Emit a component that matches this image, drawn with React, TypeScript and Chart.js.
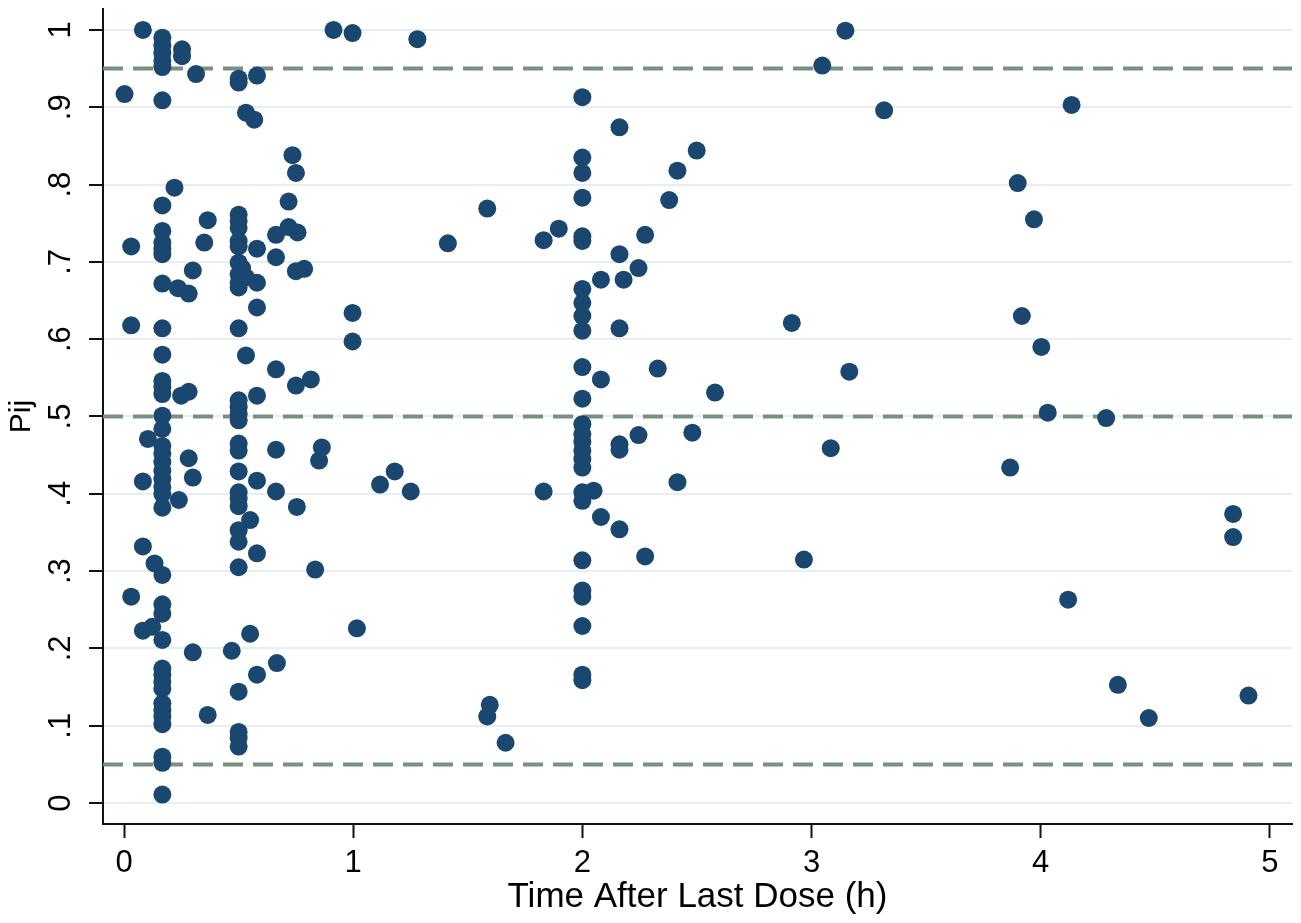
import { useEffect, useRef } from "react";
import { Chart, registerables } from "chart.js";

Chart.register(...registerables);

// Time after last dose (h) for each observation
const timeHours: number[] = [
  0.082, 0.002, 0.167, 0.167, 0.167, 0.167, 0.167, 0.253, 0.253, 0.314,
  0.167, 0.5, 0.5, 0.58, 0.532, 0.568, 0.735, 0.75, 0.22, 0.167,
  0.718, 0.365, 0.5, 0.5, 0.5, 0.167, 0.663, 0.718, 0.757, 0.35,
  0.5, 0.5, 0.031, 0.167, 0.167, 0.167, 0.58, 0.663, 0.5, 0.515,
  0.75, 0.786, 0.3, 0.167, 0.5, 0.5, 0.532, 0.5, 0.58, 0.235,
  0.282, 0.58, 0.031, 0.167, 0.5, 0.167, 0.532, 0.663, 0.167, 0.167,
  0.815, 0.75, 0.249, 0.282, 0.167, 0.58, 0.5, 0.5, 0.5, 0.5,
  0.167, 0.167, 0.104, 0.167, 0.167, 0.167, 0.167, 0.167, 0.167, 0.167,
  0.167, 0.282, 0.3, 0.082, 0.239, 0.5, 0.5, 0.5, 0.5, 0.5,
  0.5, 0.58, 0.55, 0.5, 0.5, 0.58, 0.5, 0.663, 0.663, 0.754,
  0.851, 0.863, 0.834, 0.082, 0.133, 0.167, 0.031, 0.167, 0.167, 0.082,
  0.123, 0.167, 0.3, 0.47, 0.55, 0.167, 0.167, 0.167, 0.167, 0.58,
  0.667, 0.5, 0.167, 0.167, 0.167, 0.167, 0.365, 0.5, 0.5, 0.5,
  0.167, 0.167, 0.167,
  0.914, 0.997, 1.28, 0.997, 0.997, 1.016, 1.117, 1.181, 1.251, 1.413,
  1.585, 1.596, 1.585, 1.665, 1.831, 1.897, 1.831,
  2, 2, 2, 2, 2, 2, 2, 2, 2, 2,
  2, 2, 2, 2, 2, 2, 2, 2, 2, 2,
  2, 2, 2, 2, 2, 2,
  2.162, 2.274, 2.162, 2.245, 2.081, 2.18, 2.162, 2.081, 2.049, 2.081,
  2.162, 2.162, 2.245, 2.162, 2.274, 2.499, 2.415, 2.379, 2.329, 2.579,
  2.48, 2.415,
  2.914, 2.967, 3.047, 3.148, 3.165, 3.084, 3.317, 3.867, 3.9, 3.918,
  3.971, 4.003, 4.031, 4.12, 4.135, 4.286, 4.337, 4.472, 4.84, 4.84,
  4.907,
];

// Pij value for each observation (same order as timeHours)
const pijValues: number[] = [
  1.0, 0.917, 0.99, 0.98, 0.97, 0.96, 0.952, 0.975, 0.966, 0.943,
  0.909, 0.937, 0.932, 0.941, 0.893, 0.884, 0.838, 0.815, 0.796, 0.773,
  0.778, 0.754, 0.761, 0.753, 0.744, 0.74, 0.735, 0.745, 0.738, 0.725,
  0.727, 0.72, 0.72, 0.725, 0.717, 0.71, 0.717, 0.706, 0.699, 0.692,
  0.688, 0.691, 0.689, 0.672, 0.684, 0.673, 0.68, 0.667, 0.673, 0.666,
  0.659, 0.641, 0.618, 0.614, 0.614, 0.58, 0.579, 0.561, 0.546, 0.538,
  0.548, 0.54, 0.527, 0.532, 0.529, 0.527, 0.521, 0.512, 0.503, 0.495,
  0.501, 0.484, 0.471, 0.462, 0.452, 0.441, 0.43, 0.419, 0.409, 0.4,
  0.382, 0.446, 0.421, 0.416, 0.392, 0.465, 0.456, 0.429, 0.402, 0.394,
  0.384, 0.417, 0.366, 0.353, 0.338, 0.323, 0.305, 0.457, 0.403, 0.383,
  0.443, 0.46, 0.302, 0.332, 0.31, 0.295, 0.267, 0.257, 0.245, 0.223,
  0.228, 0.211, 0.195, 0.197, 0.219, 0.174, 0.166, 0.157, 0.148, 0.166,
  0.181, 0.144, 0.129, 0.12, 0.112, 0.102, 0.114, 0.092, 0.084, 0.073,
  0.06, 0.052, 0.011,
  1.0, 0.996, 0.988, 0.634, 0.597, 0.226, 0.412, 0.429, 0.403, 0.724,
  0.769, 0.127, 0.112, 0.078, 0.728, 0.743, 0.403,
  0.913, 0.835, 0.815, 0.783, 0.733, 0.727, 0.665, 0.647, 0.63, 0.611,
  0.564, 0.523, 0.49, 0.477, 0.467, 0.456, 0.445, 0.434, 0.402, 0.391,
  0.314, 0.275, 0.267, 0.229, 0.166, 0.159,
  0.874, 0.735, 0.71, 0.692, 0.677, 0.677, 0.614, 0.548, 0.404, 0.37,
  0.464, 0.457, 0.476, 0.354, 0.319, 0.844, 0.818, 0.78, 0.562, 0.531,
  0.479, 0.415,
  0.621, 0.315, 0.954, 0.999, 0.558, 0.459, 0.896, 0.434, 0.802, 0.63,
  0.755, 0.59, 0.505, 0.263, 0.903, 0.498, 0.153, 0.11, 0.374, 0.344,
  0.139,
];

const referenceLevels: number[] = [0.05, 0.5, 0.95];
const xTickValues: number[] = [0, 1, 2, 3, 4, 5];
const xTickLabels: string[] = ["0", "1", "2", "3", "4", "5"];
const yTickValues: number[] = [0, 0.1, 0.2, 0.3, 0.4, 0.5, 0.6, 0.7, 0.8, 0.9, 1];
const yTickLabels: string[] = ["0", ".1", ".2", ".3", ".4", ".5", ".6", ".7", ".8", ".9", "1"];
const xRange: number[] = [-0.092, 5.097];
const yRange: number[] = [-0.0271, 1.0271];
const xTitle = "Time After Last Dose (h)";
const yTitle = "Pij";

export default function App() {
  const canvasRef = useRef<HTMLCanvasElement>(null);

  useEffect(() => {
    const canvas = canvasRef.current;
    if (!canvas) return;
    const family = "'Liberation Sans', Arial, Helvetica, sans-serif";
    const points = timeHours.map((t, i) => ({ x: t, y: pijValues[i] }));
    const refSets = referenceLevels.map((lvl) => ({
      type: "line" as const,
      data: [
        { x: xRange[0], y: lvl },
        { x: xRange[1], y: lvl },
      ],
      borderColor: "#76917f",
      borderWidth: 4,
      borderDash: [20, 10],
      pointRadius: 0,
      fill: false,
      order: 1,
    }));

    const chart = new Chart(canvas, {
      type: "scatter",
      data: {
        datasets: [
          {
            type: "scatter",
            data: points,
            backgroundColor: "#1a476f",
            borderColor: "#1a476f",
            borderWidth: 0,
            pointRadius: 9,
            order: 0,
          } as any,
          ...(refSets as any[]),
        ],
      },
      options: {
        animation: false,
        responsive: false,
        devicePixelRatio: 1,
        events: [],
        layout: { padding: { left: 0, right: 5, top: 7, bottom: 0 } },
        plugins: {
          legend: { display: false },
          tooltip: { enabled: false },
        },
        scales: {
          x: {
            type: "linear",
            min: xRange[0],
            max: xRange[1],
            afterBuildTicks: (s: any) => {
              s.ticks = xTickValues.map((v) => ({ value: v }));
            },
            afterFit: (s: any) => {
              s.height = 99;
              s.paddingLeft = 0;
              s.paddingRight = 0;
            },
            ticks: {
              autoSkip: false,
              maxRotation: 0,
              minRotation: 0,
              padding: 7,
              color: "#000",
              font: { family, size: 31 },
              callback: (_v: any, i: number) => xTickLabels[i],
            },
            grid: {
              drawOnChartArea: false,
              drawTicks: true,
              tickLength: 14,
              tickColor: "#111",
              tickWidth: 2,
            },
            border: { display: true, color: "#111", width: 2 },
            title: {
              display: true,
              text: xTitle,
              color: "#000",
              font: { family, size: 35 },
              padding: { top: 0, bottom: 5 },
            },
          },
          y: {
            type: "linear",
            min: yRange[0],
            max: yRange[1],
            afterBuildTicks: (s: any) => {
              s.ticks = yTickValues.map((v) => ({ value: v }));
            },
            afterFit: (s: any) => {
              s.width = 103;
              s.paddingTop = 0;
              s.paddingBottom = 0;
            },
            ticks: {
              autoSkip: false,
              minRotation: 90,
              maxRotation: 90,
              crossAlign: "center",
              padding: 15,
              color: "#000",
              font: { family, size: 31 },
              callback: (_v: any, i: number) => yTickLabels[i],
            },
            grid: {
              drawOnChartArea: true,
              color: "#e6eef1",
              lineWidth: 2,
              drawTicks: true,
              tickLength: 14,
              tickColor: "#111",
              tickWidth: 2,
            },
            border: { display: true, color: "#111", width: 2 },
            title: {
              display: true,
              text: yTitle,
              color: "#000",
              font: { family, size: 30 },
              padding: { top: 4, bottom: 0 },
            },
          },
        },
      },
    } as any);

    return () => chart.destroy();
  }, []);

  return (
    <div
      style={{
        position: "absolute",
        left: 0,
        top: 0,
        width: 1301,
        height: 923,
        background: "#ffffff",
      }}
    >
      <canvas ref={canvasRef} width={1301} height={923} style={{ display: "block" }} />
    </div>
  );
}
